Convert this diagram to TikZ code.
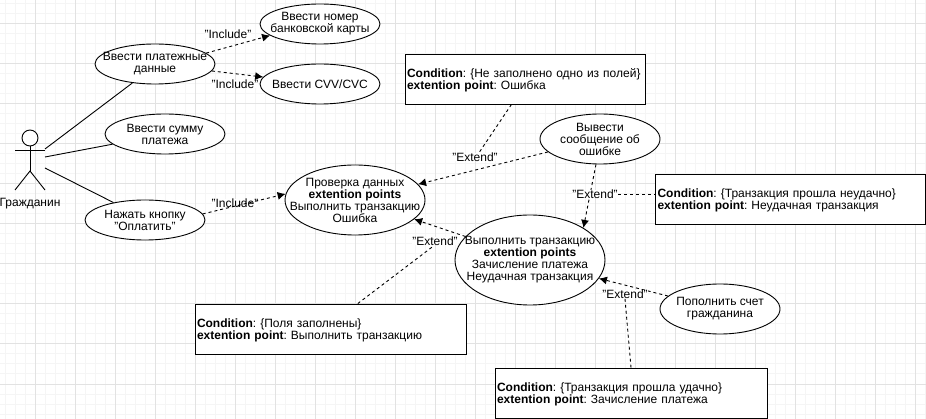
\documentclass[tikz,border=0pt]{standalone}
\usepackage{xcolor}
\usepackage{fontspec}
\setmainfont{Liberation Sans}
\usetikzlibrary{shapes.geometric,arrows.meta}

\definecolor{gridmajor}{HTML}{E2E2E2}
\definecolor{gridminor}{HTML}{F5F5F5}

\tikzset{
    usecase/.style={ellipse,draw=black,fill=white,inner xsep=-70pt,inner ysep=-30pt,align=center,minimum width=120pt,minimum height=40pt},
    condbox/.style={rectangle,draw=black,fill=white,inner sep=0pt,inner xsep=2pt,align=left,minimum height=50pt,execute at end node={\vspace{-3pt}}},
    extlabel/.style={fill=white,inner sep=0pt},
    relation/.style={dash pattern=on 3pt off 3pt},
    dep/.style={relation,-{Latex[length=8pt,width=8pt]}}
}

\begin{document}
\frenchspacing
\begin{tikzpicture}[x=1pt,y=-1pt,line width=0.9pt,font=\fontsize{12}{12}\selectfont]
            \useasboundingbox (0,0) rectangle (926,419);
            \fill[white] (0,0) rectangle (926,419);

            \foreach \x in {5,15,...,925}
              {
                \draw[gridminor,line width=1pt] (\x,0) -- (\x,419);
              }
            \foreach \y in {4,14,...,414}
              {
                \draw[gridminor,line width=1pt] (0,\y) -- (926,\y);
              }
            \foreach \x in {35,75,...,915}
              {
                \draw[gridmajor,line width=1pt] (\x,0) -- (\x,419);
              }
            \foreach \y in {24,64,...,404}
              {
                \draw[gridmajor,line width=1pt] (0,\y) -- (926,\y);
              }

            \node[draw=black,fill=white,circle,inner sep=0pt,minimum size=16pt] at (30,138) (head) {};
            \coordinate (hip) at (30,171);
            \coordinate (armL) at (15,150);
            \coordinate (armR) at (45,150);
            \coordinate (legL) at (15,190);
            \coordinate (legR) at (45,190);
            \draw (head.south) -- (hip);
            \draw (armL) -- (armR);
            \draw (legL) -- (hip) -- (legR);
            \node at (30,204) (citizen) {Гражданин};
            \coordinate (actorA) at (45,149);
            \coordinate (actorB) at (45,157);
            \coordinate (actorC) at (45,168);

            \node[usecase] at (155,64) (pay) {Ввести платежные\\данные};
            \node[usecase] at (320,24) (card) {Ввести номер\\банковской карты};
            \node[usecase] at (320,84) (cvv) {Ввести CVV/CVC};
            \node[usecase] at (165,134) (sum) {Ввести сумму\\платежа};
            \node[usecase] at (145,220) (click) {Нажать кнопку\\"Оплатить"};
            \node[usecase,minimum width=140pt,minimum height=70pt] at (355,200) (check) {Проверка данных\\\textbf{extention points}\\Выполнить транзакцию\\Ошибка};
            \node[usecase,minimum height=50pt] at (600,139) (err) {Вывести\\сообщение об\\ошибке};
            \node[usecase,minimum width=150pt,minimum height=90pt] at (530,260) (trans) {Выполнить транзакцию\\\textbf{extention points}\\Зачисление платежа\\Неудачная транзакция};
            \node[usecase,minimum height=50pt] at (720,309) (topup) {Пополнить счет\\гражданина};

            \node[condbox,text width=236pt] at (525,79) (condTop) {\textbf{Condition}: \{Не заполнено одно из полей\}\\\textbf{extention point}: Ошибка};
            \node[condbox,text width=266pt] at (790.5,199) (condRight) {\textbf{Condition}: \{Транзакция прошла неудачно\}\\\textbf{extention point}: Неудачная транзакция};
            \node[condbox,text width=267pt] at (330.5,329) (condLeft) {\textbf{Condition}: \{Поля заполнены\}\\\textbf{extention point}: Выполнить транзакцию};
            \node[condbox,text width=268pt] at (631,393) (condBottom) {\textbf{Condition}: \{Транзакция прошла удачно\}\\\textbf{extention point}: Зачисление платежа};

            \draw (actorA) -- (pay.220);
            \draw (actorB) -- (sum.191);
            \draw (actorC) -- (click.151);

            \node[extlabel] at (228,34) (incA) {"Include"};
            \node[extlabel] at (235,84) (incB) {"Include"};
            \node[extlabel] at (235,203) (incC) {"Include"};
            \draw[dep] (pay.12) -- (card.193);
            \draw[dep] (pay.-7) -- (cvv.173);
            \draw[dep] (click.6) -- (check.175);

            \draw[dep] (err.194) -- (check.14);
            \node[extlabel] at (475,157) (extA) {"Extend"};
            \draw[relation] (condTop.242) -- (extA.48);

            \draw[dep] (err.261) -- (trans.31);
            \node[extlabel] at (595,194) (extB) {"Extend"};
            \draw[relation] (extB.east) -- (extB.east -| condRight.west);

            \draw[dep] (trans.160) -- (check.-18);
            \node[extlabel] at (435,241) (extC) {"Extend"};
            \draw[relation] (condLeft.43) -- (extC.-105);

            \draw[dep] (topup.166) -- (trans.-15);
            \node[extlabel] at (625,294) (extD) {"Extend"};
            \draw[relation] (condBottom.north) -- (extD.south);
        \end{tikzpicture}
\end{document}
